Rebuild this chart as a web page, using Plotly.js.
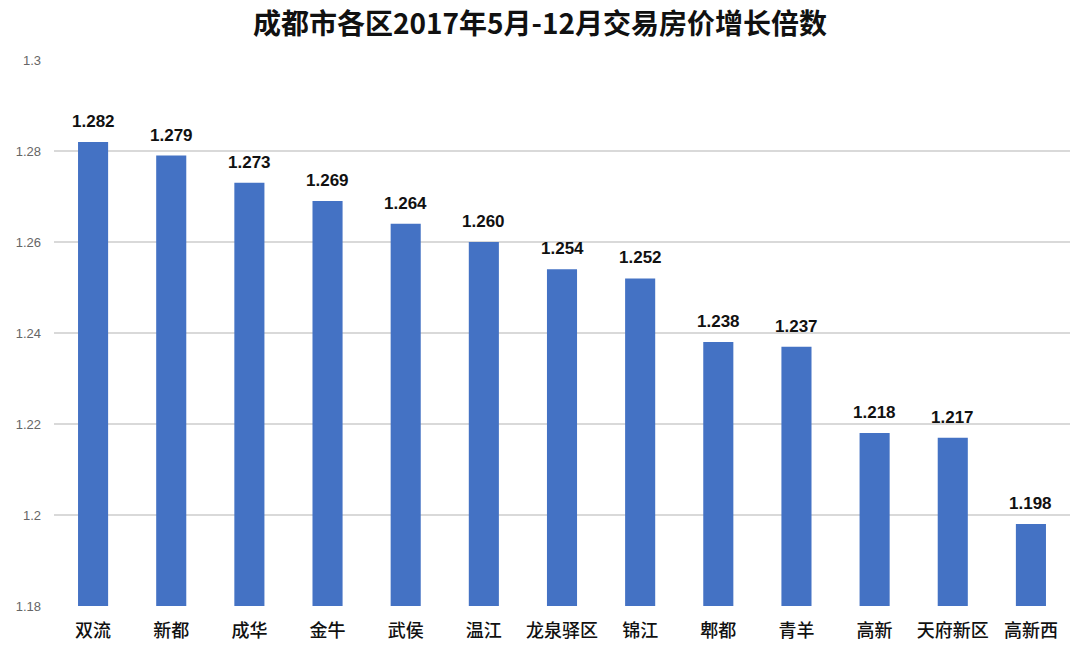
<!DOCTYPE html>
<html>
<head>
<meta charset="utf-8">
<script src="https://cdn.plot.ly/plotly-3.0.1.min.js"></script>
<style>html,body{margin:0;padding:0;background:#fff;}#chart{width:1080px;height:647px;}</style>
</head>
<body>
<div id="chart"></div>
<script>
const districts = ["双流","新都","成华","金牛","武侯","温江","龙泉驿区","锦江","郫都","青羊","高新","天府新区","高新西"];
const growthMultiple = [1.282,1.279,1.273,1.269,1.264,1.260,1.254,1.252,1.238,1.237,1.218,1.217,1.198];
const valueLabels = ["1.282","1.279","1.273","1.269","1.264","1.260","1.254","1.252","1.238","1.237","1.218","1.217","1.198"];
const yTicks = [1.18,1.2,1.22,1.24,1.26,1.28,1.3];
const yTickLabels = ["1.18","1.2","1.22","1.24","1.26","1.28","1.3"];

const font = '"Noto Sans CJK SC", "Noto Sans", sans-serif';
const numFont = 'Arial, "Liberation Sans", sans-serif';

const annotations = districts.map((d, i) => ({
  x: d, y: growthMultiple[i], text: valueLabels[i],
  xref: 'x', yref: 'y', showarrow: false,
  yanchor: 'bottom', yshift: 9,
  font: {family: numFont, size: 17, color: '#111', weight: 'bold'}
}));

Plotly.newPlot('chart', [{
  type: 'bar',
  x: districts,
  y: growthMultiple,
  marker: {color: '#4472C4'},
  hoverinfo: 'skip'
}], {
  width: 1080, height: 647,
  margin: {l: 54, r: 10, t: 60, b: 41},
  paper_bgcolor: '#fff', plot_bgcolor: '#fff',
  title: {text: '<b>成都市各区2017年5月-12月交易房价增长倍数</b>', x: 0.5, xanchor: 'center', y: 0.963, yanchor: 'middle',
          font: {family: font, size: 28, color: '#111'}},
  bargap: 0.615,
  showlegend: false,
  annotations: annotations,
  xaxis: {
    tickfont: {family: font, size: 18, color: '#111', weight: 500},
    showgrid: false, showline: false, ticks: '', zeroline: false,
    ticklabelstandoff: 12
  },
  yaxis: {
    range: [1.18, 1.3],
    tickvals: yTicks, ticktext: yTickLabels,
    tickfont: {family: numFont, size: 13, color: '#666'},
    gridcolor: '#d9d9d9', gridwidth: 1.2,
    zeroline: false, showline: false, ticks: '',
    ticklabelstandoff: 12
  }
}, {displayModeBar: false, staticPlot: true});
</script>
</body>
</html>
